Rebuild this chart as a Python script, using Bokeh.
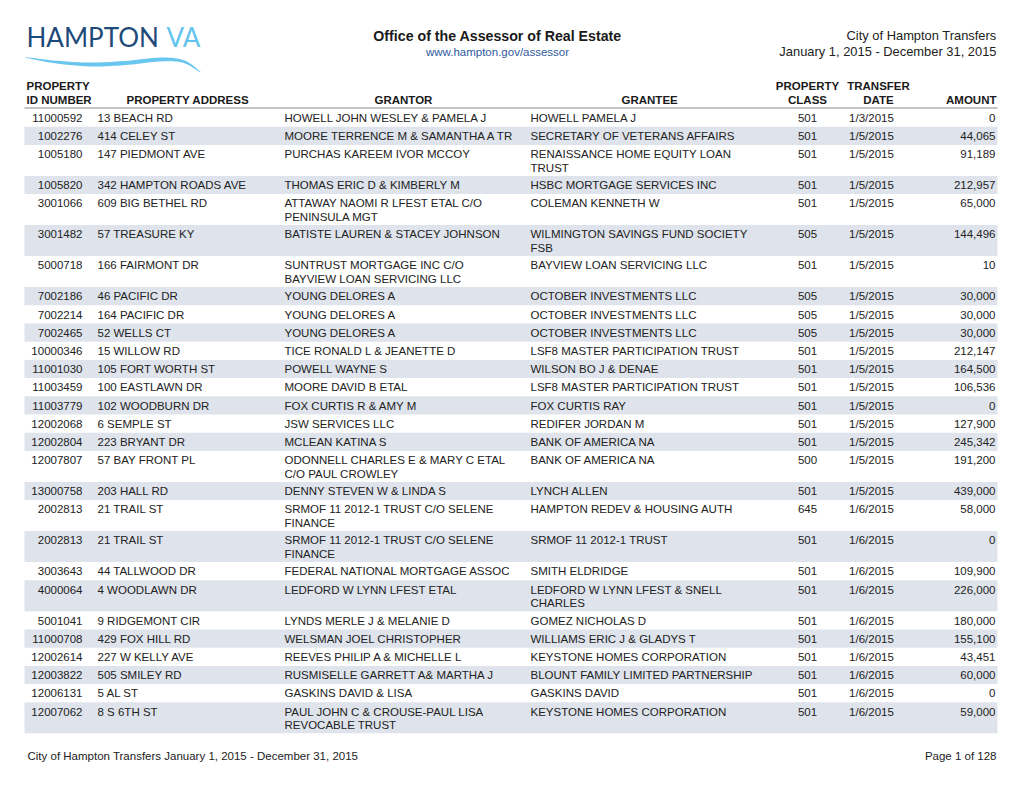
import numpy as np
from bokeh.plotting import figure
from bokeh.models import Range1d, ColumnDataSource
from bokeh.core.properties import value
from bokeh.embed import file_html
from bokeh.resources import INLINE

# ---------------- data ----------------
ids = ["11000592", "1002276", "1005180", "1005820", "3001066", "3001482", "5000718",
       "7002186", "7002214", "7002465", "10000346", "11001030", "11003459", "11003779",
       "12002068", "12002804", "12007807", "13000758", "2002813", "2002813", "3003643",
       "4000064", "5001041", "11000708", "12002614", "12003822", "12006131", "12007062"]
addresses = ["13 BEACH RD", "414 CELEY ST", "147 PIEDMONT AVE", "342 HAMPTON ROADS AVE",
             "609 BIG BETHEL RD", "57 TREASURE KY", "166 FAIRMONT DR", "46 PACIFIC DR",
             "164 PACIFIC DR", "52 WELLS CT", "15 WILLOW RD", "105 FORT WORTH ST",
             "100 EASTLAWN DR", "102 WOODBURN DR", "6 SEMPLE ST", "223 BRYANT DR",
             "57 BAY FRONT PL", "203 HALL RD", "21 TRAIL ST", "21 TRAIL ST", "44 TALLWOOD DR",
             "4 WOODLAWN DR", "9 RIDGEMONT CIR", "429 FOX HILL RD", "227 W KELLY AVE",
             "505 SMILEY RD", "5 AL ST", "8 S 6TH ST"]
grantors = ["HOWELL JOHN WESLEY & PAMELA J", "MOORE TERRENCE M & SAMANTHA A TR",
            "PURCHAS KAREEM IVOR MCCOY", "THOMAS ERIC D & KIMBERLY M",
            "ATTAWAY NAOMI R LFEST ETAL C/O\nPENINSULA MGT", "BATISTE LAUREN & STACEY JOHNSON",
            "SUNTRUST MORTGAGE INC C/O\nBAYVIEW LOAN SERVICING LLC", "YOUNG DELORES A",
            "YOUNG DELORES A", "YOUNG DELORES A", "TICE RONALD L & JEANETTE D", "POWELL WAYNE S",
            "MOORE DAVID B ETAL", "FOX CURTIS R & AMY M", "JSW SERVICES LLC", "MCLEAN KATINA S",
            "ODONNELL CHARLES E & MARY C ETAL\nC/O PAUL CROWLEY", "DENNY STEVEN W & LINDA S",
            "SRMOF 11 2012-1 TRUST C/O SELENE\nFINANCE", "SRMOF 11 2012-1 TRUST C/O SELENE\nFINANCE",
            "FEDERAL NATIONAL MORTGAGE ASSOC", "LEDFORD W LYNN LFEST ETAL",
            "LYNDS MERLE J & MELANIE D", "WELSMAN JOEL CHRISTOPHER", "REEVES PHILIP A & MICHELLE L",
            "RUSMISELLE GARRETT A& MARTHA J", "GASKINS DAVID & LISA",
            "PAUL JOHN C & CROUSE-PAUL LISA\nREVOCABLE TRUST"]
grantees = ["HOWELL PAMELA J", "SECRETARY OF VETERANS AFFAIRS",
            "RENAISSANCE HOME EQUITY LOAN\nTRUST", "HSBC MORTGAGE SERVICES INC",
            "COLEMAN KENNETH W", "WILMINGTON SAVINGS FUND SOCIETY\nFSB",
            "BAYVIEW LOAN SERVICING LLC", "OCTOBER INVESTMENTS LLC", "OCTOBER INVESTMENTS LLC",
            "OCTOBER INVESTMENTS LLC", "LSF8 MASTER PARTICIPATION TRUST", "WILSON BO J & DENAE",
            "LSF8 MASTER PARTICIPATION TRUST", "FOX CURTIS RAY", "REDIFER JORDAN M",
            "BANK OF AMERICA NA", "BANK OF AMERICA NA", "LYNCH ALLEN",
            "HAMPTON REDEV & HOUSING AUTH", "SRMOF 11 2012-1 TRUST", "SMITH ELDRIDGE",
            "LEDFORD W LYNN LFEST & SNELL\nCHARLES", "GOMEZ NICHOLAS D",
            "WILLIAMS ERIC J & GLADYS T", "KEYSTONE HOMES CORPORATION",
            "BLOUNT FAMILY LIMITED PARTNERSHIP", "GASKINS DAVID", "KEYSTONE HOMES CORPORATION"]
classes = ["501", "501", "501", "501", "501", "505", "501", "505", "505", "505", "501", "501",
           "501", "501", "501", "501", "500", "501", "645", "501", "501", "501", "501", "501",
           "501", "501", "501", "501"]
dates = ["1/3/2015"] + ["1/5/2015"] * 17 + ["1/6/2015"] * 10
amounts = [0, 44065, 91189, 212957, 65000, 144496, 10, 30000, 30000, 30000, 212147, 164500,
           106536, 0, 127900, 245342, 191200, 439000, 58000, 0, 109900, 226000, 180000,
           155100, 43451, 60000, 0, 59000]

header_line1 = ["PROPERTY", "", "", "", "PROPERTY", "TRANSFER", ""]
header_line2 = ["ID NUMBER", "PROPERTY ADDRESS", "GRANTOR", "GRANTEE", "CLASS", "DATE", "AMOUNT"]

title = "Office of the Assessor of Real Estate"
url = "www.hampton.gov/assessor"
right_title = ["City of Hampton Transfers", "January 1, 2015 - December 31, 2015"]
footer_left = "City of Hampton Transfers January 1, 2015 - December 31, 2015"
footer_right = "Page 1 of 128"

# logo swoosh centreline anchors (decoration)
swoosh_x = [25, 55, 90, 125, 160, 183, 200]
swoosh_y = [57.0, 61.5, 64.0, 62.5, 59.0, 61.0, 71.5]

# ---------------- layout ----------------
FONT = value("Liberation Sans")
BODY = "11.5px"
TXT = "#222222"
SHADE = "#dfe4ec"

X0, X1 = 24, 997
col_id_r = 82
col_addr = 97
col_grantor = 284
col_grantee = 530
col_class_c = 807
col_date_c = 871
col_amt_r = 995

H1, H2 = 18.2, 31.0
LINE = 13.5
top = 108.0

p = figure(width=1004, height=772, output_backend="svg", toolbar_location=None,
           x_range=Range1d(0, 1004), y_range=Range1d(772, 0), min_border=0,
           background_fill_color="white", border_fill_color="white")
p.axis.visible = False
p.xgrid.visible = False
p.ygrid.visible = False
p.outline_line_color = None

# row geometry
row_top, row_h = [], []
y = top
for g, e in zip(grantors, grantees):
    n = max(len(g.split("\n")), len(e.split("\n")))
    h = H1 if n == 1 else H2
    row_top.append(y)
    row_h.append(h)
    y += h

shade_idx = [i for i in range(len(ids)) if i % 2 == 1]
p.quad(left=[X0] * len(shade_idx), right=[X1] * len(shade_idx),
       top=[row_top[i] for i in shade_idx],
       bottom=[row_top[i] + row_h[i] for i in shade_idx],
       fill_color=SHADE, line_color=None)

# header underline
p.segment(x0=[X0], y0=[107.5], x1=[X1], y1=[107.5], line_color="#b0b0b0", line_width=1.5)

def add_text(xs, ys, texts, align, size=BODY, style="normal", color=TXT, font=FONT):
    src = ColumnDataSource(dict(x=xs, y=ys, t=texts))
    p.text(x="x", y="y", text="t", source=src, text_align=align, text_baseline="middle",
           text_font=font, text_font_size=size, text_font_style=style, text_color=color)

# body cells
cells = {"left": ([], [], []), "right": ([], [], []), "center": ([], [], [])}
def put(align, x, y_, t):
    cells[align][0].append(x)
    cells[align][1].append(y_)
    cells[align][2].append(t)

for i in range(len(ids)):
    yc = row_top[i] + 9.2
    put("right", col_id_r, yc, ids[i])
    put("left", col_addr, yc, addresses[i])
    for k, ln in enumerate(grantors[i].split("\n")):
        put("left", col_grantor, yc + k * LINE, ln)
    for k, ln in enumerate(grantees[i].split("\n")):
        put("left", col_grantee, yc + k * LINE, ln)
    put("center", col_class_c, yc, classes[i])
    put("center", col_date_c, yc, dates[i])
    put("right", col_amt_r, yc, f"{amounts[i]:,}")

for al, (xs, ys, ts) in cells.items():
    add_text(xs, ys, ts, al)

# headers
hx = [26, 126, 374, 621, 807, 878, 996]
halign = ["left", "left", "left", "left", "center", "center", "right"]
for x_, a, t1, t2 in zip(hx, halign, header_line1, header_line2):
    if t1:
        add_text([x_], [85], [t1], a, size="11.5px", style="bold", color="#1a1a1a")
    add_text([x_], [99], [t2], a, size="11.5px", style="bold", color="#1a1a1a")

# page header
add_text([497], [35], [title], "center", size="14.2px", style="bold", color="#1a1a1a")
add_text([497], [51], [url], "center", size="11.5px", color="#2f5a9e")
add_text([996], [35], [right_title[0]], "right", size="12.9px", color="#222222")
add_text([996], [51], [right_title[1]], "right", size="12.9px", color="#222222")

# footer
add_text([27], [755], [footer_left], "left", size="11.5px", color="#222222")
add_text([996], [755], [footer_right], "right", size="11.5px", color="#222222")

# logo
add_text([26], [36], ["HAMPTON"], "left", size="26px", color="#1e4a7a", font=value("Lato"))
add_text([166], [36], ["VA"], "left", size="26px", color="#62c3ec", font=value("Lato"))

# swoosh: Catmull-Rom through anchors, tapered width
ax = np.array(swoosh_x, float); ay = np.array(swoosh_y, float)
P = np.stack([ax, ay], 1)
P = np.vstack([P[0] * 2 - P[1], P, P[-1] * 2 - P[-2]])
pts = []
for j in range(1, len(P) - 2):
    p0, p1, p2, p3 = P[j - 1], P[j], P[j + 1], P[j + 2]
    for t in np.linspace(0, 1, 12, endpoint=False):
        t2, t3 = t * t, t * t * t
        pts.append(0.5 * ((2 * p1) + (-p0 + p2) * t + (2 * p0 - 5 * p1 + 4 * p2 - p3) * t2
                          + (-p0 + 3 * p1 - 3 * p2 + p3) * t3))
pts.append(P[-2])
pts = np.array(pts)
d = np.gradient(pts, axis=0)
nrm = np.stack([-d[:, 1], d[:, 0]], 1)
nrm /= np.linalg.norm(nrm, axis=1, keepdims=True)
s = np.linspace(0, 1, len(pts))
w = 1.9 * np.sin(np.pi * s) ** 0.7 + 0.2
up = pts + nrm * w[:, None]
lo = pts - nrm * w[:, None]
poly = np.vstack([up, lo[::-1]])
p.patch(x=poly[:, 0], y=poly[:, 1], fill_color="#69c6ee", line_color=None)

open("out.html", "w").write(file_html(p, INLINE))
